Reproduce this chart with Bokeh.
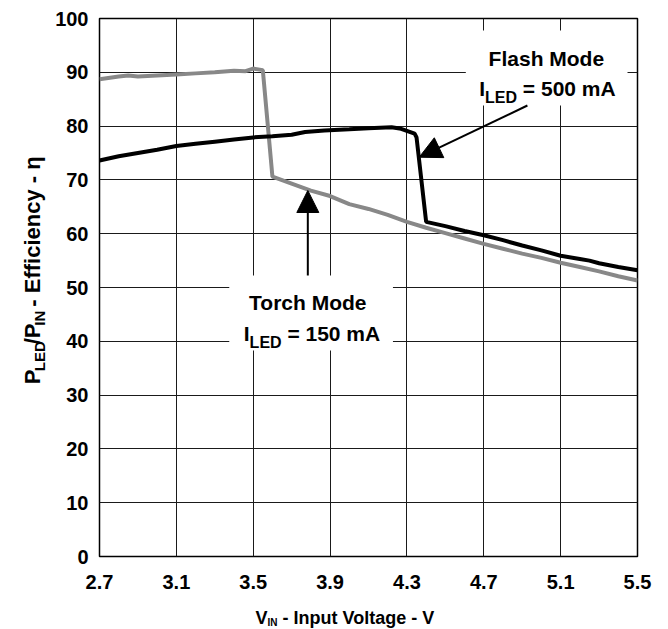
from bokeh.plotting import figure
from bokeh.layouts import column, row
from bokeh.models import Range1d, Label, Arrow, NormalHead, BoxAnnotation
from bokeh.embed import file_html
from bokeh.resources import INLINE

# ---- data ----
vin_flash = [2.70, 2.80, 2.90, 3.00, 3.10, 3.20, 3.30, 3.40, 3.50, 3.60, 3.70, 3.77, 3.87,
             4.00, 4.10, 4.22, 4.27, 4.34, 4.35, 4.40, 4.50, 4.60, 4.70, 4.80, 4.90, 5.00,
             5.10, 5.20, 5.25, 5.30, 5.40, 5.50]
eff_flash = [73.6, 74.4, 75.0, 75.6, 76.3, 76.7, 77.1, 77.5, 77.9, 78.1, 78.4, 78.9, 79.2,
             79.4, 79.6, 79.8, 79.5, 78.6, 77.9, 62.2, 61.4, 60.5, 59.7, 58.8, 57.8, 56.9,
             55.9, 55.3, 55.0, 54.5, 53.8, 53.2]

vin_torch = [2.70, 2.80, 2.85, 2.90, 3.00, 3.10, 3.20, 3.30, 3.40, 3.46, 3.50, 3.55, 3.60,
             3.70, 3.80, 3.90, 4.00, 4.10, 4.20, 4.30, 4.40, 4.50, 4.60, 4.70, 4.80, 4.90,
             5.00, 5.10, 5.20, 5.30, 5.40, 5.50]
eff_torch = [88.7, 89.2, 89.4, 89.2, 89.4, 89.6, 89.8, 90.0, 90.3, 90.2, 90.7, 90.4, 70.6,
             69.3, 68.0, 67.0, 65.5, 64.6, 63.5, 62.2, 61.1, 60.1, 59.1, 58.1, 57.2, 56.3,
             55.5, 54.6, 53.8, 53.0, 52.1, 51.3]

x_ticks = [2.7, 3.1, 3.5, 3.9, 4.3, 4.7, 5.1, 5.5]
x_tick_labels = ["2.7", "3.1", "3.5", "3.9", "4.3", "4.7", "5.1", "5.5"]
y_ticks = [0, 10, 20, 30, 40, 50, 60, 70, 80, 90, 100]
y_tick_labels = ["0", "10", "20", "30", "40", "50", "60", "70", "80", "90", "100"]

FONT = "Liberation Sans"

# canvas geometry (pixels)
W, H = 668, 629
YT_W = 52          # width of the y-title strip
MAIN_H = 600       # height of main row
FL, FR, FT, FB = 98, 637, 18, 556
X0, X1, Y0, Y1 = 2.7, 5.5, 0, 100


def dx(px):
    return X0 + (px - FL) * (X1 - X0) / (FR - FL)


def dy(py):
    return Y0 + (FB - py) * (Y1 - Y0) / (FB - FT)


# Arial-bold advance widths (per 1000 em)
CW = {' ': 278, '=': 584, '0': 556, '1': 556, '5': 556, 'm': 889, 'A': 722, 'I': 278,
      'L': 611, 'E': 667, 'D': 722, 'N': 722, 'V': 667, 'P': 667, '/': 278, '-': 333}


def tw(s, size):
    return sum(CW.get(c, 556) for c in s) * size / 1000.0


def add_label(fig, x, y, text, size, align="left", angle=0):
    fig.add_layout(Label(x=x, y=y, text=text, angle=angle,
                         text_font=FONT, text_font_style="bold", text_font_size=f"{size}px",
                         text_align=align, text_baseline="alphabetic", text_color="black"))


# ---------------- main chart ----------------
p = figure(width=W - YT_W, height=MAIN_H, output_backend="svg", toolbar_location=None,
           x_range=Range1d(X0, X1), y_range=Range1d(Y0, Y1),
           min_border_left=FL - YT_W, min_border_right=W - FR,
           min_border_top=FT, min_border_bottom=MAIN_H - FB)
p.background_fill_color = "white"
p.border_fill_color = "white"
p.outline_line_color = "black"
p.outline_line_width = 1.5

p.xaxis.ticker = x_ticks
p.yaxis.ticker = y_ticks
p.xaxis.major_label_overrides = {t: l for t, l in zip(x_ticks, x_tick_labels)}
p.yaxis.major_label_overrides = {t: l for t, l in zip(y_ticks, y_tick_labels)}
for ax in (p.xaxis, p.yaxis):
    ax.axis_line_color = None
    ax.major_tick_line_color = None
    ax.minor_tick_line_color = None
    ax.major_label_text_font = FONT
    ax.major_label_text_font_style = "bold"
    ax.major_label_text_font_size = "20px"
    ax.major_label_text_color = "black"
p.xaxis.major_label_standoff = 12
p.yaxis.major_tick_out = 0
p.yaxis.major_tick_in = 0
p.yaxis.minor_tick_out = 0
p.yaxis.minor_tick_in = 0
p.yaxis.major_label_standoff = 11
p.grid.grid_line_color = "#1a1a1a"
p.grid.grid_line_width = 1

p.line(vin_torch, eff_torch, line_color="#888888", line_width=4)
p.line(vin_flash, eff_flash, line_color="black", line_width=4)

# white boxes behind annotation text
p.add_layout(BoxAnnotation(left=dx(465), right=dx(627), top=dy(30), bottom=dy(105),
                           fill_color="white", fill_alpha=1, line_color=None))
p.add_layout(BoxAnnotation(left=dx(228), right=dx(392), top=dy(275), bottom=dy(350),
                           fill_color="white", fill_alpha=1, line_color=None))

# arrows
p.add_layout(Arrow(end=NormalHead(size=22, fill_color="black", line_color="black"),
                   x_start=dx(526.7), y_start=dy(105), x_end=dx(418.3), y_end=dy(156.7),
                   line_width=2, line_color="black"))
p.add_layout(Arrow(end=NormalHead(size=22, fill_color="black", line_color="black"),
                   x_start=dx(306.7), y_start=dy(275), x_end=dx(306.7), y_end=dy(190),
                   line_width=2, line_color="black"))


def sub_line(cx_px, base_py, pieces):
    # pieces: (text, size, baseline shift px downward, leading gap in spaces)
    total = sum(tw(t, s) + g * tw(" ", s) for t, s, _, g in pieces)
    x = cx_px - total / 2
    for t, s, sh, g in pieces:
        x += g * tw(" ", s)
        add_label(p, dx(x), dy(base_py + sh), t, s)
        x += tw(t, s)


add_label(p, dx(545.7), dy(58.3), "Flash Mode", 21, align="center")
sub_line(546.7, 88.3, [("I", 21, 0, 0), ("LED", 16, 9, 0), ("= 500 mA", 21, 0, 1)])

add_label(p, dx(306.7), dy(301.7), "Torch Mode", 21, align="center")
sub_line(310.8, 333.3, [("I", 21, 0, 0), ("LED", 16, 9, 0), ("= 150 mA", 21, 0, 1)])


def blank_fig(w, h):
    f = figure(width=w, height=h, output_backend="svg", toolbar_location=None,
               x_range=Range1d(0, w), y_range=Range1d(0, h),
               x_axis_location=None, y_axis_location=None, min_border=0)
    f.grid.visible = False
    f.outline_line_color = None
    f.background_fill_color = "white"
    f.border_fill_color = "white"
    return f


# ---------------- y-axis title strip ----------------
yf = blank_fig(YT_W, MAIN_H)
yt = 408
for t, s, sh, g in [("P", 22, 0, 0), ("LED", 15, 7, 0), ("/P", 22, 0, 0), ("IN", 15, 7, 0),
                    ("- Efficiency - η", 22, 0, 1)]:
    yt -= g * tw(" ", s)
    add_label(yf, 32 + sh, MAIN_H - yt, t, s, angle=1.5707963267948966)
    yt -= tw(t, s)

# ---------------- x-axis title strip ----------------
XT_H = H - MAIN_H
xf = blank_fig(W, XT_H)
xt = 255
for t, s, sh, g in [("V", 18, 0, 0), ("IN", 10, 4.5, 0), ("- Input Voltage - V", 18, 0, 1)]:
    xt += g * tw(" ", s)
    add_label(xf, xt, H - (617.3 + sh), t, s)
    xt += tw(t, s)

layout = column(row(yf, p), xf)
open("out.html", "w").write(file_html(layout, INLINE))
